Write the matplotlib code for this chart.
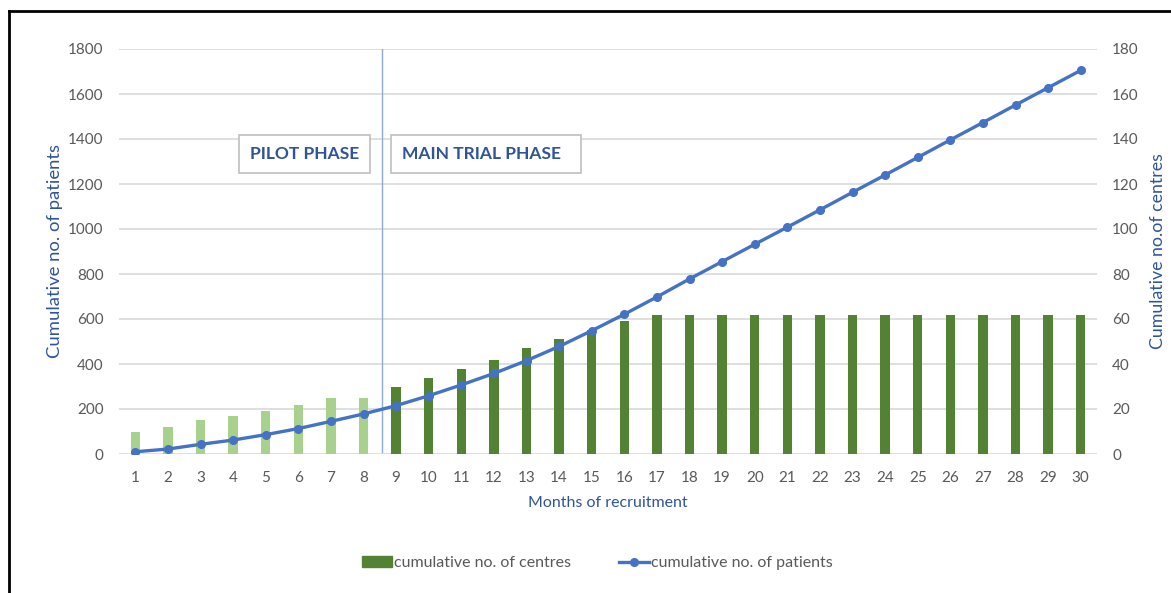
import matplotlib.pyplot as plt
from matplotlib.lines import Line2D
from matplotlib.patches import Rectangle, Patch

plt.rcParams['font.family'] = ['Lato', 'DejaVu Sans']

# podaci očitani sa slike
mjeseci = list(range(1, 31))
pacijenti = [10, 22, 43, 62, 86, 113, 145, 178, 215, 259, 307, 358, 415, 478, 548,
             621, 698, 778, 855, 932, 1008, 1085, 1163, 1240, 1318, 1396, 1473, 1551, 1628, 1705]
centri = [10, 12, 15, 17, 19, 22, 25, 25, 30, 34, 38, 42, 47, 51, 55,
          59, 62, 62, 62, 62, 62, 62, 62, 62, 62, 62, 62, 62, 62, 62]
pilot_mjeseci = 8

plava = '#4472C4'
tamno_plava = '#2F5597'
svijetlo_zelena = '#A9D18E'
zelena = '#548235'
siva = '#595959'

fig = plt.figure(figsize=(11.71, 5.93), dpi=100)
ax = fig.add_axes([119 / 1171, 1 - 454 / 593, 978 / 1171, 405 / 593])
ax2 = ax.twinx()

# stupci (centri) na desnoj osi, ispod linije
boje = [svijetlo_zelena if m <= pilot_mjeseci else zelena for m in mjeseci]
ax2.bar(mjeseci, centri, width=0.29, color=boje, zorder=2)
ax2.set_ylim(0, 180)
ax2.set_yticks(range(0, 181, 20))
ax2.grid(axis='y', color='#D9D9D9', linewidth=1.2)
ax2.set_axisbelow(True)

# linija (pacijenti) na lijevoj osi, iznad stupaca
ax.set_zorder(ax2.get_zorder() + 1)
ax.patch.set_visible(False)
ax.plot(mjeseci, pacijenti, color=plava, linewidth=2.4, marker='o', markersize=5.5, zorder=3)
ax.set_ylim(0, 1800)
ax.set_yticks(range(0, 1801, 200))
ax.set_xlim(0.5, 30.5)
ax.set_xticks(mjeseci)

# granica pilot faze
ax.plot([8.57, 8.57], [10, 1800], color='#8EA9DB', linewidth=1, zorder=1)

# natpisi faza
for x0, x1, xt, tekst in [(4.19, 8.21, 4.53, 'PILOT PHASE'), (8.84, 14.68, 9.18, 'MAIN TRIAL PHASE')]:
    ax.add_patch(Rectangle((x0, 1251), x1 - x0, 166, facecolor='white', edgecolor='#BFBFBF',
                           linewidth=1.2, zorder=4))
    ax.text(xt, 1334, tekst, color=tamno_plava, fontsize=12.5, fontweight='bold',
            va='center', ha='left', zorder=5)

for a in (ax, ax2):
    for s in a.spines.values():
        s.set_visible(False)
    a.tick_params(length=0, labelsize=11, labelcolor=siva)
ax.tick_params(axis='y', pad=11)
ax2.tick_params(axis='y', pad=11)
ax.tick_params(axis='x', pad=12)

ax.set_ylabel('Cumulative no. of patients', color=tamno_plava, fontsize=13.3, labelpad=4)
ax2.set_ylabel('Cumulative no.of centres', color=tamno_plava, fontsize=12.8, labelpad=8)
ax.set_xlabel('Months of recruitment', color=tamno_plava, fontsize=11.5, labelpad=8)

# legenda
ruke = [Patch(color=zelena), Line2D([0], [0], color=plava, linewidth=2.4, marker='o', markersize=5.5)]
fig.legend(ruke, ['cumulative no. of centres', 'cumulative no. of patients'], loc='center',
           bbox_to_anchor=(597 / 1171, 1 - 563 / 593), ncol=2, frameon=False, fontsize=11.5,
           labelcolor=siva, columnspacing=3.0, handlelength=1.9, handletextpad=0.1)

# crni okvir (lijevo i gore)
fig.add_artist(Line2D([9 / 1171, 9 / 1171], [0, 1 - 11 / 593], color='black', linewidth=2))
fig.add_artist(Line2D([9 / 1171, 1], [1 - 11 / 593, 1 - 11 / 593], color='black', linewidth=2))

fig.savefig('out.png', dpi=100)
